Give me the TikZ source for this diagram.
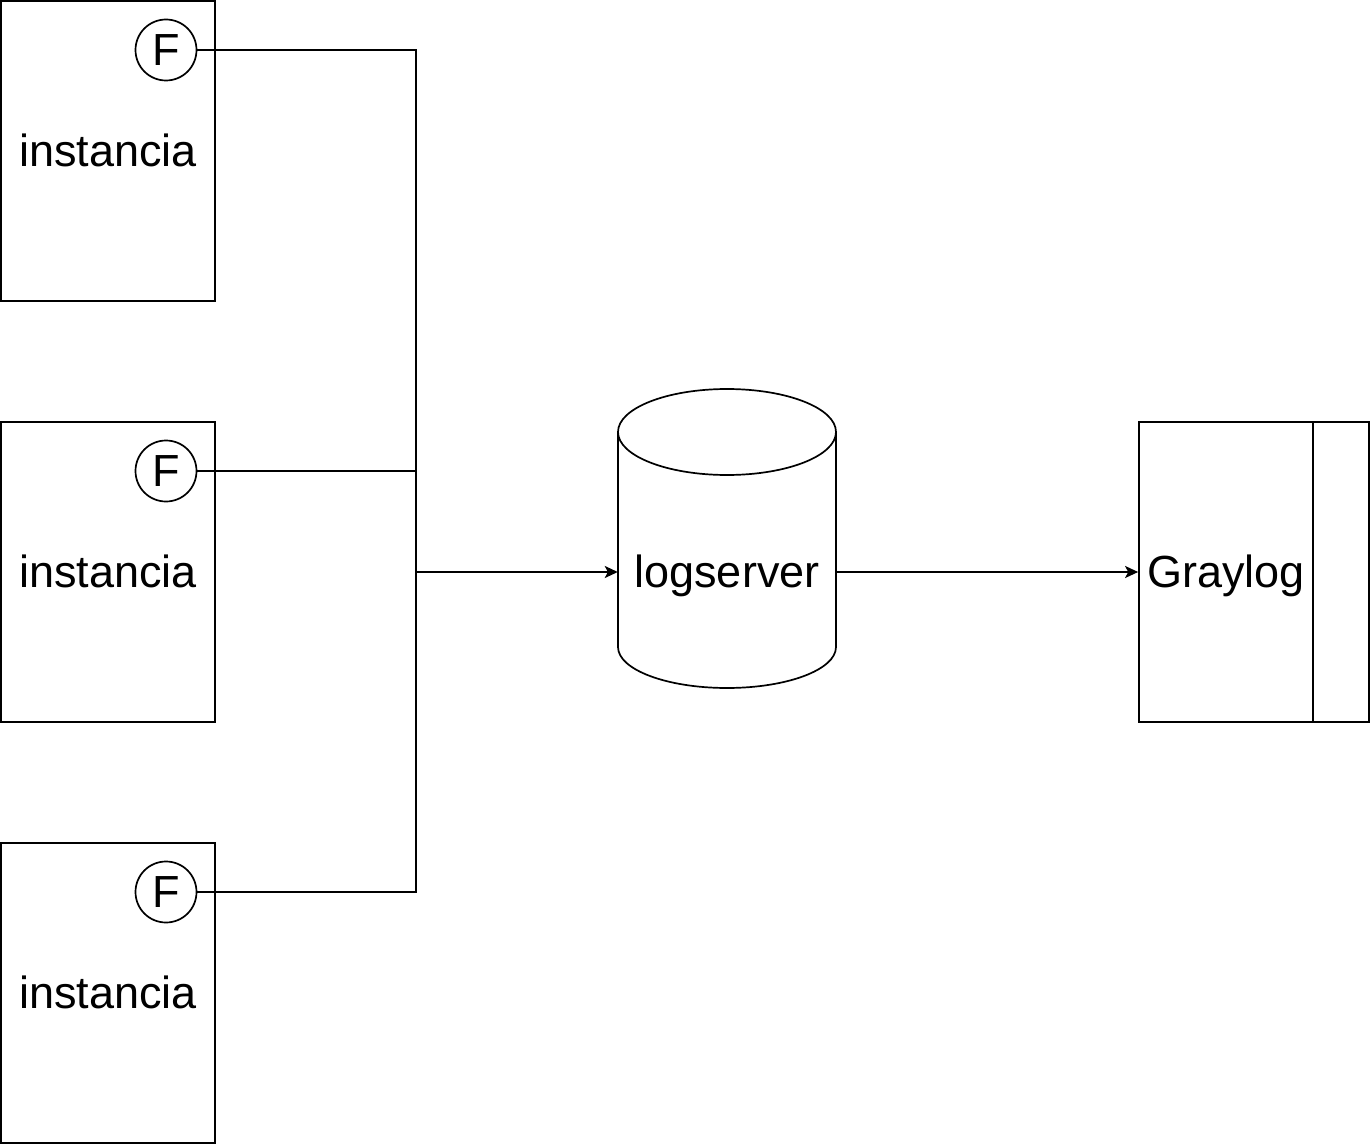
\documentclass[tikz,border=0pt]{standalone}
\usepackage{fontspec}
\setmainfont{Liberation Sans}
\usetikzlibrary{positioning,arrows.meta}

\tikzset{
  lbl/.style={font=\fontsize{45}{52}\selectfont, inner sep=0pt, text height=31pt, text depth=0pt},
  instbox/.style={lbl, draw, line width=1.7pt, minimum width=214pt, minimum height=300pt},
  fbox/.style={lbl, draw, circle, fill=white, line width=1.7pt, minimum size=61pt},
  link/.style={line width=1.7pt},
  arr/.style={link, -{Stealth[length=13pt,width=12pt,inset=3pt]}}
}

\begin{document}
\begin{tikzpicture}[x=1pt,y=-1pt]
    \useasboundingbox (0,0) rectangle (1371,1145);
    \coordinate (bus) at (416,572);
    \foreach \i/\y in {1/151,2/572,3/993} {
    \node[instbox] (inst\i) at (108,\y) {instancia};
    \node[fbox] (f\i) at (166,\y-101) {F};
    \draw[link] (f\i.east) -| (bus);
    }
    \node[lbl, minimum width=218pt] (logserver) at (727,572) {logserver};
    \draw[link] (618,432) -- (618,647) arc[start angle=180, end angle=360, x radius=109pt, y radius=41pt] -- (836,432);
    \draw[link] (727,432) ellipse [x radius=109pt, y radius=43pt];
    \node[instbox, minimum width=174pt] (graylog) at (1226,572) {Graylog};
    \node[instbox, minimum width=56pt, right=-1.7pt of graylog] (graybar) {};
    \draw[arr] (bus) -- (logserver.west);
    \draw[arr] (logserver.east) -- (graylog.west);
\end{tikzpicture}
\end{document}
